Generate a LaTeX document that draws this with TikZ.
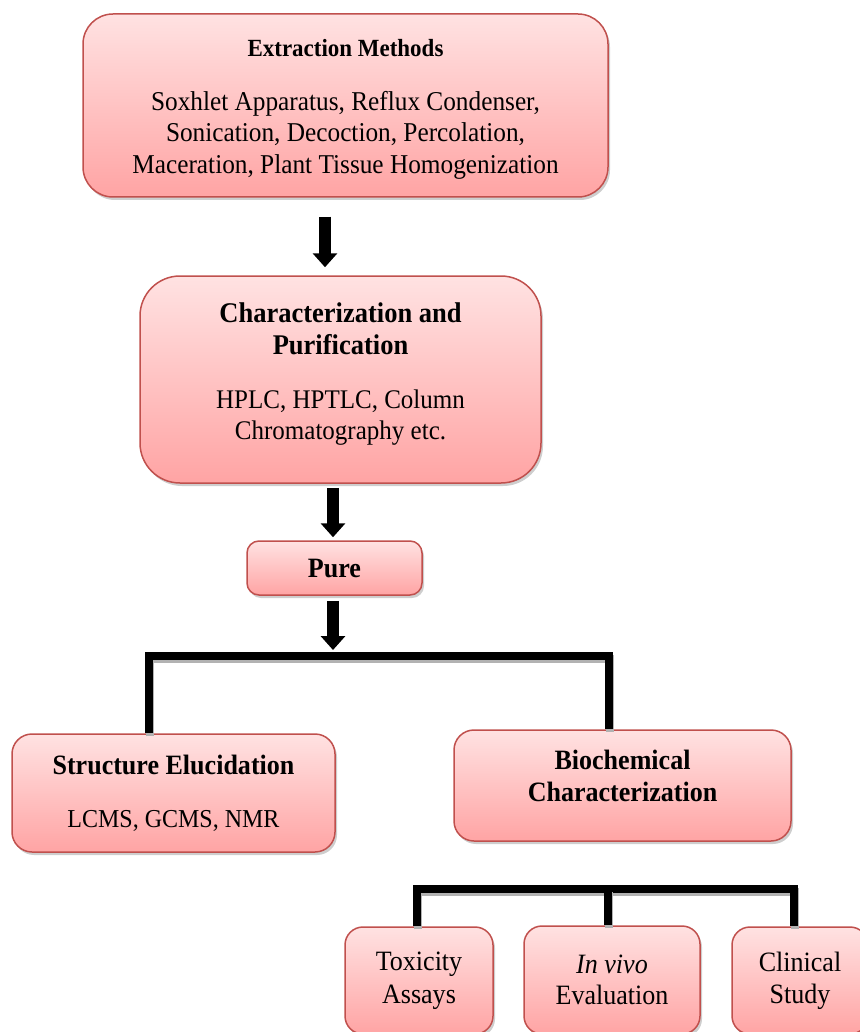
\documentclass[tikz,border=0pt]{standalone}
\usepackage{fontspec}
\setmainfont[FakeStretch=0.93]{Liberation Serif}
\usetikzlibrary{positioning}
\usetikzlibrary{shadows}
\usetikzlibrary{arrows.meta}
\definecolor{boxtop}{HTML}{FFE2E2}
\definecolor{boxbottom}{HTML}{FFA4A4}
\definecolor{boxline}{HTML}{C0504D}
\tikzstyle{box}=[draw=boxline, line width=1.5pt, top color=boxtop, bottom color=boxbottom, rounded corners=20pt, align=center, font=\fontsize{28}{32}\selectfont, drop shadow={shadow xshift=2pt, shadow yshift=-3pt, fill=black!38}]
\tikzstyle{flow}=[-{Triangle[width=24pt, length=14pt]}, line width=11.5pt]
\tikzstyle{link}=[line width=8pt, preaction={draw=black!30, line width=8pt, transform canvas={xshift=1pt, yshift=-3pt}}]

\begin{document}
\begin{tikzpicture}[x=1pt, y=-1pt]
    \useasboundingbox (0,0) rectangle (859,1032);

    \node[box, minimum width=525pt, minimum height=183pt, rounded corners=30pt, font=\fontsize{27.2}{31.5}\selectfont] (extract) at (345.5,105.5)
        {\rule{0pt}{24pt}{\fontsize{24.7}{31.5}\selectfont\bfseries Extraction Methods}\\[22.5pt]Soxhlet Apparatus, Reflux Condenser,\\Sonication, Decoction, Percolation,\\Maceration, Plant Tissue Homogenization};
    \node[box, minimum width=401pt, minimum height=207pt, rounded corners=40pt, font=\fontsize{26.9}{31.5}\selectfont] (charact) [below = 77.5pt of extract, xshift=-5pt]
        {{\fontsize{28.5}{31.5}\selectfont\bfseries Characterization and}\\{\fontsize{28.5}{31.5}\selectfont\bfseries Purification}\\[22.5pt]HPLC, HPTLC, Column\\Chromatography etc.\rule[-16pt]{0pt}{16pt}};
    \node[box, minimum width=175pt, minimum height=54pt, rounded corners=12pt] (pure) [below = 56.5pt of charact, xshift=-6pt] {\textbf{Pure}};

    \node[box, minimum width=323pt, minimum height=118pt] (struct) at (173.5,793)
        {\textbf{Structure Elucidation}\\[21pt]{\fontsize{25.8}{32}\selectfont LCMS, GCMS, NMR}};
    \node[box, minimum width=337pt, minimum height=111pt] (biochem) at (622.5,785.5)
        {\textbf{Biochemical}\\\textbf{Characterization}\rule[-20pt]{0pt}{20pt}};

    \node[box, minimum width=148pt, minimum height=107pt, rounded corners=18pt, font=\fontsize{28}{33}\selectfont] (toxic) at (419,980.5) {Toxicity\\Assays};
    \node[box, minimum width=176pt, minimum height=108pt, rounded corners=18pt, font=\fontsize{28}{31}\selectfont] (invivo) at (612,980) {\textit{In vivo}\\Evaluation};
    \node[box, minimum width=136pt, minimum height=107pt, rounded corners=18pt, font=\fontsize{28}{32}\selectfont] (clinic) at (800,980.5) {Clinical\\Study};

    \coordinate (split) at (333,656);
    \coordinate (assay) at (608,889);

    \draw[flow] ([xshift=-20.5pt, yshift=-19pt]extract.south) -- ([xshift=-15.5pt, yshift=8pt]charact.north);
    \draw[flow] ([xshift=-7.5pt, yshift=-4pt]charact.south) -- ([xshift=-1.5pt, yshift=3pt]pure.north);
    \draw[flow] ([xshift=-1.5pt, yshift=-5pt]pure.south) -- ([yshift=6pt]split);

    \draw[link] ([xshift=-24.5pt]struct.north) |- (split) -| ([xshift=-13.5pt]biochem.north);
    \draw[link] ([xshift=-2pt]toxic.north) |- (assay) -| ([xshift=-6pt]clinic.north);
    \draw[link] (invivo.north -| assay) -- (assay);
\end{tikzpicture}
\end{document}
